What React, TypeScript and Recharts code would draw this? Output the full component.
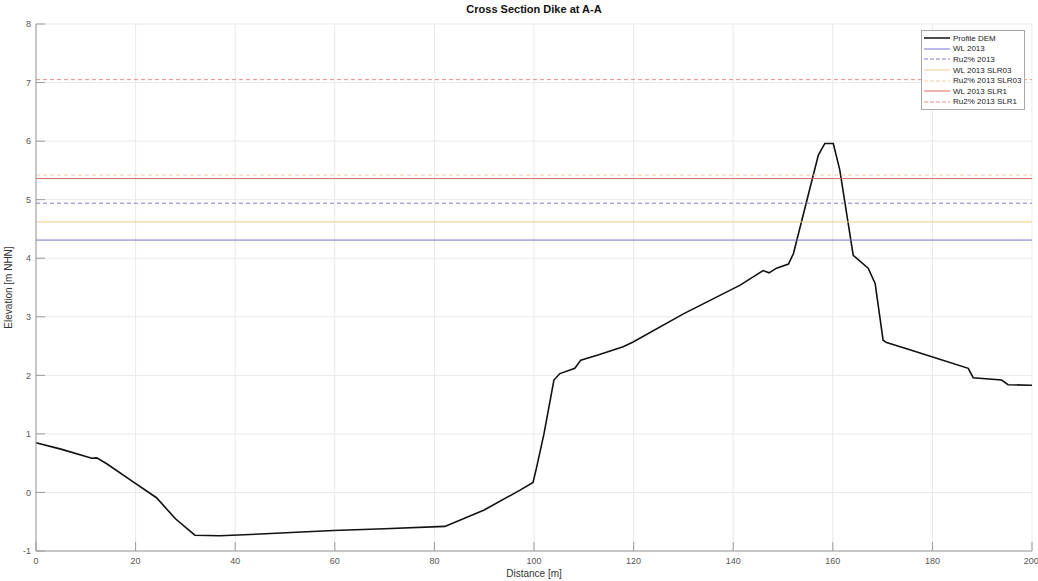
import React from "react";
import {
  LineChart,
  Line,
  XAxis,
  YAxis,
  CartesianGrid,
  ReferenceLine,
} from "recharts";

// profile
const profileDistance = [
  0, 5, 11.2, 12.2, 14.2, 19, 24.2, 28, 31.9, 36.9, 45, 59.7, 70, 82.1, 90, 97.2,
  99.8, 100.5, 102, 104, 105.2, 108.2, 109.4, 113, 117.9, 119.9, 130, 141.4,
  146, 147.2, 148.7, 151.1, 152.1, 154.8, 157.1, 158.4, 160.1, 161.4, 164.1,
  167.1, 168.5, 170.1, 170.8, 175, 180.2, 187.2, 188.2, 193.9, 195.2, 199.6, 200,
];
const profileElevation = [
  0.85, 0.74, 0.585, 0.59, 0.49, 0.21, -0.09, -0.45, -0.73, -0.74, -0.71, -0.65,
  -0.62, -0.58, -0.3, 0.04, 0.17, 0.42, 1.0, 1.92, 2.03, 2.12, 2.26, 2.35, 2.49,
  2.57, 3.05, 3.54, 3.79, 3.75, 3.83, 3.9, 4.08, 4.99, 5.76, 5.96, 5.96, 5.51,
  4.05, 3.83, 3.57, 2.6, 2.56, 2.45, 2.31, 2.12, 1.96, 1.92, 1.84, 1.83, 1.83,
];

const levelNames = [
  "WL 2013",
  "Ru2% 2013",
  "WL 2013 SLR03",
  "Ru2% 2013 SLR03",
  "WL 2013 SLR1",
  "Ru2% 2013 SLR1",
];
const levelValues = [4.31, 4.94, 4.62, 5.42, 5.36, 7.05];
const levelColors = ["#7474d4", "#7c7cc4", "#f2c696", "#f5cba3", "#e06464", "#f08a8a"];
const levelDashed = [false, true, false, true, false, true];

const xTicks = [0, 20, 40, 60, 80, 100, 120, 140, 160, 180, 200];
const yTicks = [-1, 0, 1, 2, 3, 4, 5, 6, 7, 8];

const data = profileDistance.map((d, i) => ({ d, z: profileElevation[i] }));

const FONT = "'Liberation Sans', Arial, sans-serif";
const AXIS = "#9a9a9a";

function LegendBox() {
  const rows = [
    { name: "Profile DEM", color: "#111", dashed: false, width: 1.5 },
    ...levelNames.map((n, i) => ({
      name: n,
      color: levelColors[i],
      dashed: levelDashed[i],
      width: 1,
    })),
  ];
  return (
    <div
      style={{
        position: "absolute",
        left: 921,
        top: 30,
        width: 102,
        border: "1px solid #a8a8a8",
        background: "#fff",
        padding: "2px 0 2px 0",
        fontFamily: FONT,
        fontSize: 8,
        color: "#222",
      }}
    >
      {rows.map((r) => (
        <div
          key={r.name}
          style={{ display: "flex", alignItems: "center", height: 10.6 }}
        >
          <svg width={29} height={8} style={{ marginLeft: 2 }}>
            <line
              x1={0}
              x2={26}
              y1={4}
              y2={4}
              stroke={r.color}
              strokeWidth={r.width}
              strokeDasharray={r.dashed ? "4 2" : undefined}
            />
          </svg>
          <span>{r.name}</span>
        </div>
      ))}
    </div>
  );
}

export default function App() {
  return (
    <div
      style={{
        position: "absolute",
        left: 0,
        top: 0,
        width: 1038,
        height: 581,
        background: "#fff",
        fontFamily: FONT,
      }}
    >
      <div
        style={{
          position: "absolute",
          left: 36,
          width: 996,
          top: 3,
          textAlign: "center",
          fontWeight: "bold",
          fontSize: 11,
          color: "#111",
        }}
      >
        Cross Section Dike at A-A
      </div>
      <LineChart
        width={1038}
        height={581}
        data={data}
        margin={{ top: 24, right: 6, bottom: 0, left: 0 }}
      >
        <CartesianGrid stroke="#e9e9e9" strokeWidth={1} />
        <XAxis
          dataKey="d"
          type="number"
          domain={[0, 200]}
          ticks={xTicks}
          height={30}
          tickSize={-9}
          tickMargin={16}
          axisLine={{ stroke: AXIS }}
          tickLine={{ stroke: AXIS }}
          tick={{ fill: "#555", fontSize: 9, fontFamily: FONT }}
          label={{
            value: "Distance [m]",
            position: "insideBottom",
            offset: 4,
            fill: "#333",
            fontSize: 10,
            fontFamily: FONT,
          }}
        />
        <XAxis
          xAxisId="top"
          orientation="top"
          type="number"
          domain={[0, 200]}
          ticks={xTicks}
          height={0}
          tickSize={-9}
          tick={false}
          axisLine={{ stroke: AXIS }}
          tickLine={{ stroke: AXIS }}
        />
        <YAxis
          type="number"
          domain={[-1, 8]}
          ticks={yTicks}
          width={36}
          tickSize={-9}
          tickMargin={14}
          axisLine={{ stroke: AXIS }}
          tickLine={{ stroke: AXIS }}
          tick={{ fill: "#555", fontSize: 9, fontFamily: FONT }}
          label={{
            value: "Elevation [m NHN]",
            angle: -90,
            position: "insideLeft",
            offset: 8,
            style: { textAnchor: "middle" },
            fill: "#333",
            fontSize: 10,
            fontFamily: FONT,
          }}
        />
        <YAxis
          yAxisId="right"
          orientation="right"
          type="number"
          domain={[-1, 8]}
          ticks={yTicks}
          width={0}
          tickSize={-9}
          tick={false}
          axisLine={{ stroke: AXIS }}
          tickLine={{ stroke: AXIS }}
        />
        <Line
          type="linear"
          dataKey="z"
          stroke="#111"
          strokeWidth={1.6}
          dot={false}
          isAnimationActive={false}
        />
        {levelValues.map((v, i) => (
          <ReferenceLine
            key={levelNames[i]}
            y={v}
            stroke={levelColors[i]}
            strokeWidth={1}
            strokeDasharray={levelDashed[i] ? "4 3" : undefined}
          />
        ))}
      </LineChart>
      <LegendBox />
    </div>
  );
}
